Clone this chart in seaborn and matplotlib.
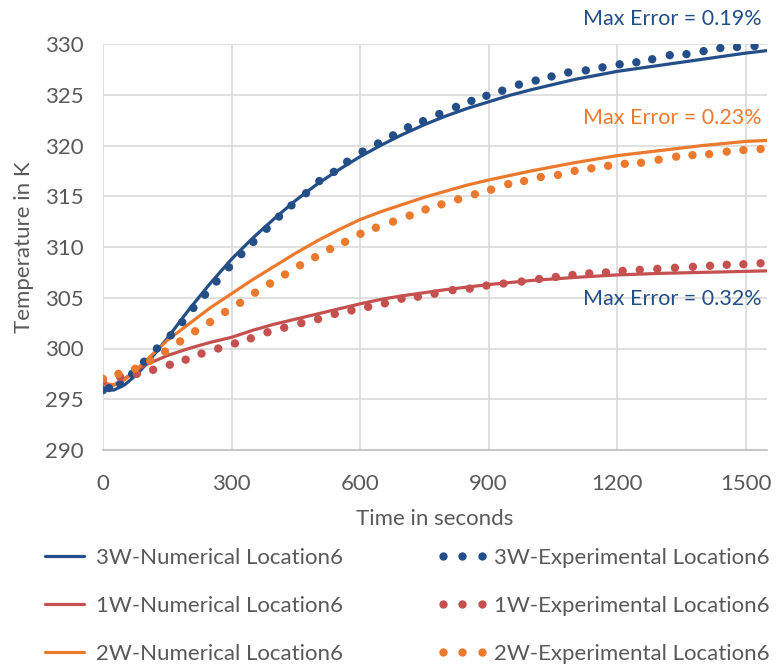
import numpy as np
import pandas as pd
import matplotlib
matplotlib.use("Agg")
import matplotlib.pyplot as plt
from matplotlib.lines import Line2D
import seaborn as sns

# ---- numerical (simulation) curves ----
num_time = [0, 25, 50, 75, 100, 150, 200, 250, 300, 350, 400, 450, 500, 550,
            600, 650, 700, 750, 800, 850, 900, 950, 1000, 1100, 1200, 1300,
            1400, 1500, 1550]
num_3w = [296.0, 295.9, 296.4, 297.3, 298.4, 301.0, 303.8, 306.4, 308.8, 310.9,
          312.8, 314.6, 316.2, 317.6, 318.9, 320.05, 321.1, 322.05, 322.9,
          323.65, 324.3, 324.95, 325.5, 326.5, 327.3, 327.9, 328.5, 329.1, 329.35]
num_1w = [296.5, 296.4, 297.0, 297.8, 298.4, 299.3, 300.0, 300.6, 301.1, 301.8,
          302.4, 302.9, 303.4, 303.9, 304.4, 304.85, 305.2, 305.5, 305.8, 306.05,
          306.3, 306.5, 306.7, 307.0, 307.25, 307.4, 307.5, 307.6, 307.65]
num_2w = [296.6, 296.4, 296.9, 297.8, 298.8, 300.8, 302.4, 304.0, 305.4, 306.8,
          308.1, 309.4, 310.6, 311.7, 312.7, 313.5, 314.2, 314.9, 315.5, 316.1,
          316.6, 317.05, 317.5, 318.3, 319.0, 319.5, 320.0, 320.4, 320.5]

# ---- experimental measurements ----
exp_time_3w = [0, 14, 40, 68, 96, 126, 158, 185, 211, 238, 265, 294, 323, 351,
               382, 411, 440, 474, 505, 539, 570, 606, 642, 677, 712, 747, 785,
               824, 860, 895, 932, 971, 1010, 1047, 1086, 1127, 1166, 1206, 1245,
               1282, 1323, 1362, 1402, 1441, 1480, 1521]
exp_3w = [295.9, 296.1, 296.5, 297.5, 298.7, 300.0, 301.3, 302.6, 304.0, 305.3,
          306.6, 308.0, 309.3, 310.5, 311.8, 313.0, 314.1, 315.3, 316.5, 317.4,
          318.4, 319.4, 320.2, 321.0, 321.8, 322.4, 323.1, 323.8, 324.4, 324.9,
          325.4, 326.0, 326.4, 326.8, 327.2, 327.4, 327.7, 328.0, 328.2, 328.5,
          328.9, 329.0, 329.3, 329.6, 329.7, 329.8]

exp_time_1w = [0, 40, 79, 117, 156, 193, 230, 269, 308, 345, 384, 423, 463, 502,
               541, 580, 619, 658, 697, 735, 774, 816, 856, 895, 935, 977, 1018,
               1057, 1096, 1135, 1174, 1213, 1253, 1294, 1335, 1377, 1417, 1456,
               1495, 1535]
exp_1w = [296.8, 297.2, 297.5, 297.9, 298.4, 298.9, 299.5, 300.0, 300.5, 301.0,
          301.6, 302.05, 302.5, 302.9, 303.4, 303.75, 304.1, 304.45, 304.9, 305.1,
          305.4, 305.75, 305.9, 306.2, 306.4, 306.6, 306.85, 307.05, 307.25, 307.4,
          307.5, 307.65, 307.75, 307.85, 307.95, 308.05, 308.15, 308.25, 308.3,
          308.4]

exp_time_2w = [0, 36, 75, 110, 145, 180, 215, 250, 285, 320, 355, 390, 425, 460,
               495, 530, 565, 601, 637, 677, 716, 753, 790, 829, 868, 906, 946,
               983, 1022, 1062, 1101, 1140, 1179, 1218, 1256, 1297, 1338, 1376,
               1415, 1456, 1495, 1535]
exp_2w = [297.0, 297.5, 298.0, 298.8, 299.7, 300.7, 301.7, 302.6, 303.6, 304.5,
          305.5, 306.4, 307.3, 308.2, 309.0, 309.8, 310.5, 311.3, 311.9, 312.5,
          313.1, 313.7, 314.2, 314.7, 315.2, 315.65, 316.2, 316.5, 316.9, 317.1,
          317.5, 317.75, 318.0, 318.2, 318.3, 318.6, 318.9, 319.05, 319.15, 319.4,
          319.55, 319.65]

x_ticks = [0, 300, 600, 900, 1200, 1500]
y_ticks = [290, 295, 300, 305, 310, 315, 320, 325, 330]

BLUE = "#244E88"
RED = "#C4504F"
ORANGE = "#EB7A2E"
TEXT = "#595959"
GRID = "#D9D9D9"
FS = 16

sns.set_theme(style="whitegrid")
plt.rcParams["font.family"] = ["Lato", "DejaVu Sans"]

fig = plt.figure(figsize=(7.76, 6.66), dpi=100)
ax = fig.add_axes([103 / 776, 1 - 450 / 666, (767 - 103) / 776, (450 - 44) / 666])
ax.set_facecolor("white")

num_df = pd.DataFrame({"t": num_time, "3W": num_3w, "1W": num_1w, "2W": num_2w})
series = [("3W", BLUE, exp_time_3w, exp_3w),
          ("1W", RED, exp_time_1w, exp_1w),
          ("2W", ORANGE, exp_time_2w, exp_2w)]

for name, color, et, ev in series:
    sns.lineplot(x=num_df["t"], y=num_df[name], ax=ax, color=color,
                 linewidth=2.3, zorder=3)
    sns.scatterplot(x=et, y=ev, ax=ax, color=color, s=36, edgecolor="none",
                    linewidth=0, zorder=4)

ax.set_xlim(0, 1550)
ax.set_ylim(290, 330)
ax.set_xticks(x_ticks)
ax.set_yticks(y_ticks)
ax.grid(True, color=GRID, linewidth=1.2)
for side in ["top", "right", "left"]:
    ax.spines[side].set_visible(False)
ax.spines["bottom"].set_color("#BFBFBF")
ax.spines["bottom"].set_linewidth(1.2)
ax.tick_params(axis="both", length=0, colors=TEXT, labelsize=FS)
ax.tick_params(axis="y", pad=14)
ax.tick_params(axis="x", pad=17)

ax.set_xlabel("Time in seconds", fontsize=FS, color=TEXT, labelpad=11)
ax.set_ylabel("Temperature in K", fontsize=FS, color=TEXT, labelpad=8)

# error annotations
ann = dict(ha="right", va="center", fontsize=15.5, clip_on=False)
ax.text(1537, 332.5, "Max Error = 0.19%", color=BLUE, **ann)
ax.text(1537, 322.7, "Max Error = 0.23%", color=ORANGE, **ann)
ax.text(1537, 304.9, "Max Error = 0.32%", color=BLUE, **ann)

num_handles = [Line2D([], [], color=c, lw=2.3) for c in (BLUE, RED, ORANGE)]
exp_handles = [Line2D([], [], color=c, ls="none", marker="o", ms=6, mec="none")
               for c in (BLUE, RED, ORANGE)]
num_labels = ["3W-Numerical Location6", "1W-Numerical Location6",
              "2W-Numerical Location6"]
exp_labels = ["3W-Experimental Location6", "1W-Experimental Location6",
              "2W-Experimental Location6"]

leg_kw = dict(loc="upper left", frameon=False, fontsize=FS, numpoints=3,
              handlelength=2.35, handletextpad=0.25, labelspacing=1.25,
              borderpad=0, borderaxespad=0, labelcolor=TEXT)
fig.legend(num_handles, num_labels, bbox_to_anchor=(38 / 776, 1 - 548 / 666), **leg_kw)
fig.legend(exp_handles, exp_labels, bbox_to_anchor=(436 / 776, 1 - 548 / 666), **leg_kw)

fig.savefig("out.png", dpi=100, facecolor="white")
